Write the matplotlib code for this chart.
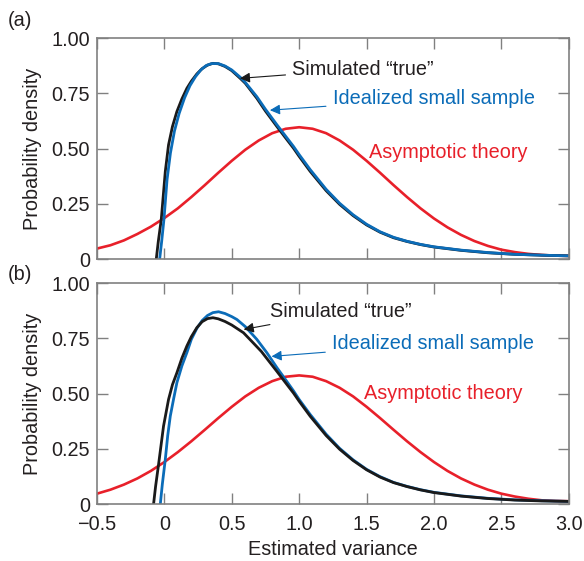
import matplotlib
matplotlib.use("Agg")
import matplotlib.pyplot as plt

# ---------------- data ----------------
x_ticks = [-0.5, 0, 0.5, 1.0, 1.5, 2.0, 2.5, 3.0]
x_tick_labels = ["\u22120.5", "0", "0.5", "1.0", "1.5", "2.0", "2.5", "3.0"]
y_ticks = [0, 0.25, 0.5, 0.75, 1.0]
y_tick_labels = ["0", "0.25", "0.50", "0.75", "1.00"]

# Panel (a)
sim_a_x = [-0.06, -0.045, -0.023, 0.007, 0.031, 0.06, 0.093, 0.13, 0.167, 0.2, 0.241, 0.28, 0.32,
           0.36, 0.4, 0.45, 0.5, 0.563, 0.6, 0.686, 0.75, 0.835, 0.9, 0.958, 1.0, 1.082, 1.2,
           1.3, 1.4, 1.5, 1.6, 1.7, 1.8, 1.9, 2.0, 2.2, 2.4, 2.6, 2.8, 3.0]
sim_a_y = [0.0, 0.08, 0.179, 0.397, 0.517, 0.60, 0.668, 0.725, 0.773, 0.805, 0.838, 0.862, 0.878,
           0.886, 0.884, 0.872, 0.853, 0.818, 0.796, 0.728, 0.67, 0.60, 0.548, 0.502, 0.465, 0.397, 0.31,
           0.248, 0.197, 0.155, 0.122, 0.097, 0.080, 0.066, 0.055, 0.040, 0.029, 0.022, 0.018, 0.015]

ideal_a_x = [-0.035, -0.02, -0.003, 0.02, 0.045, 0.075, 0.11, 0.15, 0.19, 0.23, 0.27, 0.31, 0.35,
             0.4, 0.45, 0.5, 0.563, 0.6, 0.686, 0.75, 0.835, 0.9, 0.958, 1.0, 1.082, 1.2,
             1.3, 1.4, 1.5, 1.6, 1.7, 1.8, 1.9, 2.0, 2.2, 2.4, 2.6, 2.8, 3.0]
ideal_a_y = [0.0, 0.08, 0.18, 0.36, 0.48, 0.58, 0.66, 0.73, 0.785, 0.825, 0.856, 0.876, 0.885,
             0.885, 0.874, 0.856, 0.823, 0.80, 0.735, 0.678, 0.608, 0.556, 0.51, 0.473, 0.405, 0.316,
             0.253, 0.201, 0.158, 0.124, 0.099, 0.081, 0.067, 0.056, 0.041, 0.030, 0.022, 0.018, 0.015]

asym_a_x = [-0.5, -0.4, -0.3, -0.2, -0.1, 0.0, 0.1, 0.2, 0.3, 0.4, 0.5, 0.6, 0.7, 0.8, 0.9, 1.0,
            1.1, 1.2, 1.3, 1.4, 1.5, 1.6, 1.7, 1.8, 1.9, 2.0, 2.1, 2.2, 2.3, 2.4, 2.5, 2.6, 2.7,
            2.8, 2.9, 3.0]
asym_a_y = [0.048, 0.063, 0.085, 0.114, 0.147, 0.186, 0.230, 0.281, 0.335, 0.391, 0.445, 0.495,
            0.537, 0.570, 0.590, 0.597, 0.590, 0.570, 0.537, 0.495, 0.445, 0.391, 0.335, 0.281,
            0.230, 0.184, 0.144, 0.110, 0.082, 0.060, 0.043, 0.032, 0.024, 0.019, 0.016, 0.015]

# Panel (b)
sim_b_x = [-0.08, -0.065, -0.043, -0.006, 0.031, 0.06, 0.093, 0.13, 0.167, 0.2, 0.241, 0.28, 0.32,
           0.36, 0.4, 0.45, 0.5, 0.587, 0.65, 0.72, 0.835, 0.9, 0.958, 1.0, 1.082, 1.2, 1.3, 1.4,
           1.5, 1.6, 1.7, 1.8, 1.9, 2.0, 2.2, 2.4, 2.6, 2.8, 3.0]
sim_b_y = [0.0, 0.08, 0.179, 0.353, 0.473, 0.54, 0.594, 0.66, 0.715, 0.757, 0.798, 0.825, 0.839,
           0.843, 0.838, 0.826, 0.81, 0.775, 0.735, 0.69, 0.60, 0.548, 0.502, 0.465, 0.397, 0.31,
           0.248, 0.197, 0.155, 0.122, 0.097, 0.079, 0.064, 0.052, 0.036, 0.025, 0.018, 0.014, 0.012]

ideal_b_x = [-0.03, -0.015, 0.007, 0.025, 0.044, 0.07, 0.093, 0.13, 0.167, 0.2, 0.241, 0.28, 0.32,
             0.36, 0.402, 0.45, 0.5, 0.538, 0.6, 0.686, 0.76, 0.835, 0.9, 0.958, 1.0, 1.082, 1.2,
             1.3, 1.4, 1.5, 1.6, 1.7, 1.8, 1.9, 2.0, 2.2, 2.4, 2.6, 2.8, 3.0]
ideal_b_y = [0.0, 0.09, 0.202, 0.31, 0.398, 0.48, 0.549, 0.625, 0.685, 0.745, 0.795, 0.83, 0.853,
             0.866, 0.87, 0.862, 0.848, 0.835, 0.803, 0.745, 0.685, 0.617, 0.562, 0.512, 0.473, 0.405,
             0.316, 0.252, 0.2, 0.157, 0.124, 0.098, 0.08, 0.065, 0.053, 0.037, 0.026, 0.019, 0.015, 0.012]

asym_b_x = asym_a_x
asym_b_y = [0.047, 0.065, 0.088, 0.116, 0.150, 0.190, 0.235, 0.284, 0.336, 0.389, 0.440, 0.487,
            0.526, 0.556, 0.576, 0.582, 0.576, 0.556, 0.526, 0.487, 0.440, 0.389, 0.336, 0.284,
            0.235, 0.190, 0.150, 0.116, 0.088, 0.065, 0.047, 0.034, 0.024, 0.017, 0.014, 0.013]

labels = ["Simulated \u201ctrue\u201d", "Idealized small sample", "Asymptotic theory"]

# ---------------- style ----------------
plt.rcParams['font.family'] = ['Liberation Sans', 'DejaVu Sans']
BLACK = '#1a1a1a'
BLUE = '#0b6cb8'
RED = '#e8202a'
SPINE = '#808080'
TXT = '#231f20'
FS = 14.3

fig = plt.figure(figsize=(5.84, 5.61), dpi=100)
ax_a = fig.add_axes([0.166, 0.538, 0.808, 0.394])
ax_b = fig.add_axes([0.166, 0.1015, 0.808, 0.394])


def style(ax, show_x):
    ax.set_xlim(-0.5, 3.0)
    ax.set_ylim(0, 1.0)
    ax.set_xticks(x_ticks)
    ax.set_yticks(y_ticks)
    ax.set_yticklabels(y_tick_labels)
    if show_x:
        ax.set_xticklabels(x_tick_labels)
    else:
        ax.set_xticklabels([])
    ax.tick_params(direction='in', length=8, width=1.0, color=SPINE, labelsize=FS,
                   labelcolor=TXT, top=True, right=True)
    ax.tick_params(axis='y', pad=5)
    ax.tick_params(axis='x', pad=8)
    for s in ax.spines.values():
        s.set_color(SPINE)
        s.set_linewidth(1.2)
    ax.set_ylabel("Probability density", fontsize=FS, color=TXT, labelpad=7)


# Panel (a)
ax_a.plot(asym_a_x, asym_a_y, color=RED, lw=1.9)
ax_a.plot(sim_a_x, sim_a_y, color=BLACK, lw=2.0)
ax_a.plot(ideal_a_x, ideal_a_y, color=BLUE, lw=2.0)
style(ax_a, False)
ax_a.annotate(labels[0], xy=(0.56, 0.818), xytext=(0.95, 0.86), fontsize=FS, color=TXT,
              va='center', ha='left',
              arrowprops=dict(arrowstyle='-|>', color=BLACK, lw=0.8, mutation_scale=15,
                              shrinkA=3, shrinkB=0))
ax_a.annotate(labels[1], xy=(0.783, 0.674), xytext=(1.25, 0.726), fontsize=FS, color=BLUE,
              va='center', ha='left',
              arrowprops=dict(arrowstyle='-|>', color=BLUE, lw=0.8, mutation_scale=15,
                              shrinkA=3, shrinkB=0))
ax_a.text(1.517, 0.481, labels[2], fontsize=FS, color=RED, va='center', ha='left')

# Panel (b)
ax_b.plot(asym_b_x, asym_b_y, color=RED, lw=1.9)
ax_b.plot(ideal_b_x, ideal_b_y, color=BLUE, lw=2.0)
ax_b.plot(sim_b_x, sim_b_y, color=BLACK, lw=2.0)
style(ax_b, True)
ax_b.set_xlabel("Estimated variance", fontsize=FS, color=TXT, labelpad=4)
ax_b.annotate(labels[0], xy=(0.588, 0.79), xytext=(0.78, 0.871), fontsize=FS, color=TXT,
              va='center', ha='left',
              arrowprops=dict(arrowstyle='-|>', color=BLACK, lw=0.8, mutation_scale=15,
                              shrinkA=3, shrinkB=0))
ax_b.annotate(labels[1], xy=(0.795, 0.668), xytext=(1.245, 0.725), fontsize=FS, color=BLUE,
              va='center', ha='left',
              arrowprops=dict(arrowstyle='-|>', color=BLUE, lw=0.8, mutation_scale=15,
                              shrinkA=3, shrinkB=0))
ax_b.text(1.482, 0.499, labels[2], fontsize=FS, color=RED, va='center', ha='left')

fig.text(8 / 584, 1 - 20 / 561, "(a)", fontsize=FS, color=TXT, va='center', ha='left')
fig.text(8 / 584, 1 - 275 / 561, "(b)", fontsize=FS, color=TXT, va='center', ha='left')

fig.savefig("out.png", dpi=100)
